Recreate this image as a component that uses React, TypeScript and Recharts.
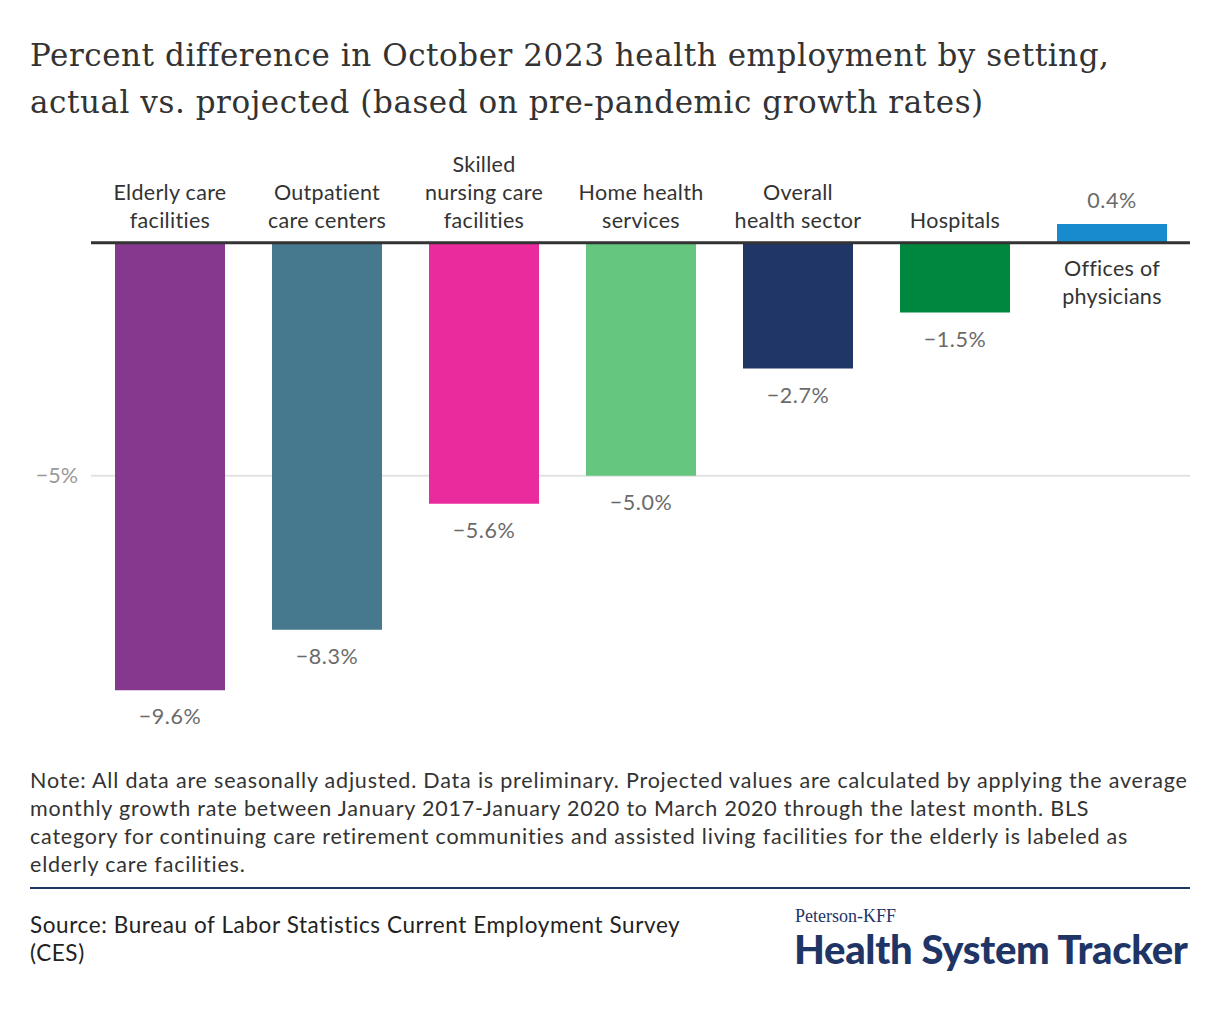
import React from "react";
import { BarChart, Bar, XAxis, YAxis, CartesianGrid, ReferenceLine, Cell, LabelList } from "recharts";

const categories = [
  "Elderly care facilities",
  "Outpatient care centers",
  "Skilled nursing care facilities",
  "Home health services",
  "Overall health sector",
  "Hospitals",
  "Offices of physicians",
];
const categoryLines = [
  ["Elderly care", "facilities"],
  ["Outpatient", "care centers"],
  ["Skilled", "nursing care", "facilities"],
  ["Home health", "services"],
  ["Overall", "health sector"],
  ["Hospitals"],
  ["Offices of", "physicians"],
];
const values = [-9.6, -8.3, -5.6, -5.0, -2.7, -1.5, 0.4];
const colors = ["#86388f", "#46788e", "#ea2b9e", "#65c67f", "#203666", "#00873e", "#188bce"];
const yTicks = [-5];

const noteLines = [
  "Note: All data are seasonally adjusted. Data is preliminary. Projected values are calculated by applying the average",
  "monthly growth rate between January 2017-January 2020 to March 2020 through the latest month. BLS",
  "category for continuing care retirement communities and assisted living facilities for the elderly is labeled as",
  "elderly care facilities.",
];

const data = categories.map((name, i) => ({ name, value: values[i] }));

const FONT = "Lato, 'Noto Sans', sans-serif";

const fmt = (v: number) => (v < 0 ? "\u2212" : "") + Math.abs(v).toFixed(1) + "%";

const renderLabel = (props: any) => {
  const { x, y, width, height, index } = props;
  const v = values[index];
  const cx = x + width / 2;
  const top = Math.min(y, y + height);
  const bottom = Math.max(y, y + height);
  const lines = categoryLines[index];
  const lh = 28;
  const out: React.ReactNode[] = [];
  const catStyle = { fontSize: 21.5, fill: "#333", fontFamily: FONT, letterSpacing: 0.3 } as any;
  const valStyle = { fontSize: 21.5, fill: "#6b6b6b", fontFamily: FONT, letterSpacing: 0.6 } as any;
  if (v < 0) {
    const zeroY = top;
    lines.forEach((ln, k) => {
      out.push(
        <text key={"c" + k} x={cx} y={zeroY - 15 - (lines.length - 1 - k) * lh} textAnchor="middle" {...catStyle}>
          {ln}
        </text>
      );
    });
    out.push(
      <text key="v" x={cx} y={bottom + 34} textAnchor="middle" {...valStyle}>
        {fmt(v)}
      </text>
    );
  } else {
    const zeroY = bottom;
    lines.forEach((ln, k) => {
      out.push(
        <text key={"c" + k} x={cx} y={zeroY + 33 + k * lh} textAnchor="middle" {...catStyle}>
          {ln}
        </text>
      );
    });
    out.push(
      <text key="v" x={cx} y={top - 16} textAnchor="middle" {...valStyle}>
        {fmt(v)}
      </text>
    );
  }
  return <g>{out}</g>;
};

const tickFmt = (v: number) => (v < 0 ? "\u2212" : "") + Math.abs(v) + "%";

export default function App() {
  return (
    <div style={{ position: "relative", width: 1220, height: 1020, margin: -8, background: "#fff", overflow: "hidden" }}>
      <div
        style={{
          position: "absolute",
          left: 30,
          top: 32,
          width: 1180,
          fontFamily: "'DejaVu Serif', serif",
          fontSize: 31,
          letterSpacing: 0.55,
          lineHeight: "47px",
          color: "#333",
          whiteSpace: "nowrap",
        }}
      >
        Percent difference in October 2023 health employment by setting,
        <br />
        actual vs. projected (based on pre-pandemic growth rates)
      </div>
      <div style={{ position: "absolute", left: 0, top: 0 }}>
        <BarChart width={1220} height={1020} data={data} margin={{ top: 196, right: 30, bottom: 311, left: 31 }}>
          <CartesianGrid vertical={false} horizontalValues={yTicks} stroke="#e2e2e2" strokeWidth={2} />
          <XAxis dataKey="name" hide />
          <YAxis
            width={60}
            domain={[-10, 1]}
            ticks={yTicks}
            tickFormatter={tickFmt}
            axisLine={false}
            tickLine={false}
            tickMargin={7}
            tick={{ fontSize: 21.5, fill: "#9a9a9a", fontFamily: FONT }}
          />
          <Bar dataKey="value" barSize={110} isAnimationActive={false}>
            {data.map((d, i) => (
              <Cell key={d.name} fill={colors[i]} />
            ))}
            <LabelList dataKey="value" content={renderLabel} />
          </Bar>
          <ReferenceLine y={0} stroke="#333" strokeWidth={3} />
        </BarChart>
      </div>
      <div
        style={{
          position: "absolute",
          left: 30,
          top: 766,
          width: 1185,
          fontFamily: FONT,
          fontSize: 21.5,
          letterSpacing: 0.8,
          lineHeight: "28px",
          color: "#333",
          whiteSpace: "nowrap",
        }}
      >
        {noteLines.map((l, i) => (
          <div key={i}>{l}</div>
        ))}
      </div>
      <div style={{ position: "absolute", left: 30, top: 887, width: 1160, height: 2, background: "#1f3566" }} />
      <div
        style={{
          position: "absolute",
          left: 30,
          top: 911,
          width: 720,
          fontFamily: FONT,
          fontSize: 22.5,
          letterSpacing: 0.6,
          lineHeight: "28px",
          color: "#222",
        }}
      >
        Source: Bureau of Labor Statistics Current Employment Survey
        <br />
        (CES)
      </div>
      <div
        style={{
          position: "absolute",
          left: 795,
          top: 906,
          fontFamily: "'Liberation Serif', serif",
          fontSize: 18,
          color: "#1f3566",
          lineHeight: "20px",
        }}
      >
        Peterson-KFF
      </div>
      <div
        style={{
          position: "absolute",
          left: 794,
          top: 926,
          fontFamily: FONT,
          fontWeight: 900,
          fontSize: 40,
          letterSpacing: -0.3,
          color: "#1f3566",
          lineHeight: "46px",
          whiteSpace: "nowrap",
        }}
      >
        Health System Tracker
      </div>
    </div>
  );
}
